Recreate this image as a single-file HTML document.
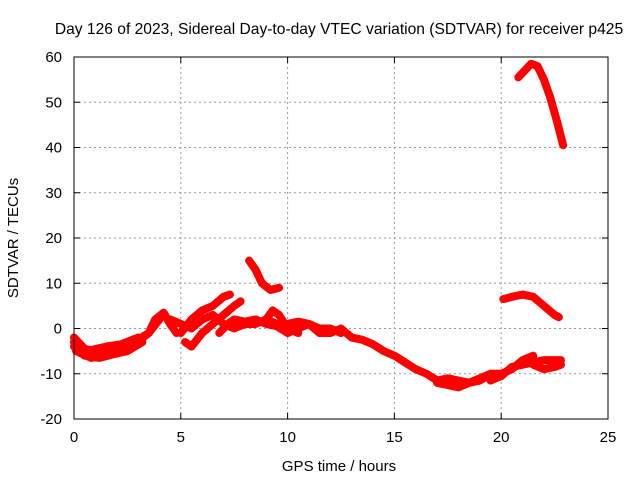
<!DOCTYPE html>
<html><head><meta charset="utf-8"><style>
body{margin:0;background:#fff}
svg{font-family:"Liberation Sans",sans-serif;font-size:14px}
</style></head><body>
<svg id="chart" width="640" height="480">
<rect width="640" height="480" fill="#fff"/>
<text x="339" y="34" text-anchor="middle" style="font-size:15.6px">Day 126 of 2023, Sidereal Day-to-day VTEC variation (SDTVAR) for receiver p425</text>
<g id="grid"></g><g id="marks"></g><g id="axes"></g>
<text x="339" y="471" text-anchor="middle" style="font-size:15px">GPS time / hours</text>
<text transform="translate(18,238) rotate(-90)" text-anchor="middle" style="font-size:15px">SDTVAR / TECUs</text>
</svg>
<script>
const xTicks=[0,5,10,15,20,25];
const yTicks=[-20,-10,0,10,20,30,40,50,60];
const tracks=[
[[0,-2],[0.5,-4.5],[1,-5],[1.5,-5],[2,-4.5],[2.5,-3.5],[3,-2.5],[3.5,-1],[3.8,2],[4.2,3.5],[4.5,1],[4.8,-1]],
[[0,-4],[0.5,-6],[1.2,-6.5],[2,-5.5],[2.8,-3.5],[3.5,-1],[4,2]],
[[0,-3],[0.6,-5],[1.5,-4],[2.2,-3.5],[3,-2]],
[[0.1,-5],[0.8,-6.5],[1.5,-6],[2.5,-5],[3.2,-3]],
[[5,-1],[5.5,2],[6,4],[6.5,5],[7,7],[7.3,7.5]],
[[5.2,-3],[5.5,-4],[6,-1],[6.5,1],[7,3],[7.5,5],[7.8,6]],
[[4.5,2],[5,1],[5.5,0],[6,2],[6.5,3],[7,1],[7.5,0],[8,1],[8.5,1],[9,2],[9.5,1]],
[[6.8,-1],[7.2,1],[7.5,2],[8,1.5],[8.5,2],[9,1],[9.5,0.5],[10,-1],[10.5,0],[11,1],[11.5,0],[12,0],[12.5,-1]],
[[9,2],[9.3,4],[9.6,3],[10,0],[10.5,-1]],
[[10,1],[10.5,1.5],[11,1],[11.5,-1],[12,-1],[12.5,0],[13,-2],[13.5,-2.5],[14,-3.5],[14.5,-5],[15,-6],[15.5,-7.5],[16,-9],[16.5,-10],[17,-11.5],[17.5,-11],[18,-11.5],[18.5,-12],[19,-11],[19.5,-10],[20,-10.5]],
[[17,-12],[17.5,-12.5],[18,-13],[18.5,-12],[19,-11.5],[19.5,-10],[20,-10],[20.5,-9],[21,-7],[21.5,-6]],
[[19.5,-11.5],[20,-10.5],[20.5,-8.5],[21,-8],[21.5,-7.5],[22,-7],[22.8,-7]],
[[21.5,-8],[22,-9],[22.5,-8.5],[22.8,-8]],
[[8.2,15],[8.5,13],[8.8,10],[9.2,8.5],[9.6,9]],
[[20.1,6.5],[20.5,7],[21,7.5],[21.5,7],[22,5],[22.5,3],[22.7,2.5]],
[[20.8,55.5],[21.1,57],[21.4,58.5],[21.7,58],[22,55],[22.3,51],[22.6,46],[22.9,40.5]]
];
const X0=74,X1=608,Y0=419,Y1=57;
const sx=v=>X0+(v-0)/25*(X1-X0);
const sy=v=>Y0-(v+20)/80*(Y0-Y1);
const NS="http://www.w3.org/2000/svg";
function mk(tag,attrs,parent){const e=document.createElementNS(NS,tag);for(const k in attrs)e.setAttribute(k,attrs[k]);parent.appendChild(e);return e;}
const grid=document.getElementById('grid'),axes=document.getElementById('axes'),marks=document.getElementById('marks');
xTicks.forEach(t=>{
 if(t>0&&t<25){const l=mk('line',{x1:sx(t),x2:sx(t),y1:Y1,y2:Y0,stroke:'#999','stroke-dasharray':'2,3'},grid);
 
 }
 mk('line',{x1:sx(t),x2:sx(t),y1:Y0,y2:Y0-6,stroke:'#000'},axes);
 mk('line',{x1:sx(t),x2:sx(t),y1:Y1,y2:Y1+6,stroke:'#000'},axes);
 const tx=mk('text',{x:sx(t),y:Y0+23,'text-anchor':'middle',style:'font-size:15px'},axes);tx.textContent=t;
 
 
});
yTicks.forEach(t=>{
 if(t>-20&&t<60){const l=mk('line',{x1:X0,x2:X1,y1:sy(t),y2:sy(t),stroke:'#999','stroke-dasharray':'2,3'},grid);
 
 }
 mk('line',{x1:X0,x2:X0+6,y1:sy(t),y2:sy(t),stroke:'#000'},axes);
 mk('line',{x1:X1,x2:X1-6,y1:sy(t),y2:sy(t),stroke:'#000'},axes);
 const tx=mk('text',{x:X0-12,y:sy(t)+5,'text-anchor':'end',style:'font-size:15px'},axes);tx.textContent=t;
 
 
});
const fr=mk('rect',{x:X0,y:Y1,width:X1-X0,height:Y0-Y1,fill:'none',stroke:'#000'},axes);


tracks.forEach(tr=>{
 const p=mk('polyline',{points:tr.map(d=>sx(d[0])+','+sy(d[1])).join(' '),fill:'none',stroke:'#f00','stroke-width':8,'stroke-linejoin':'round','stroke-linecap':'round'},marks);
 
 
});
</script>
</body></html>
